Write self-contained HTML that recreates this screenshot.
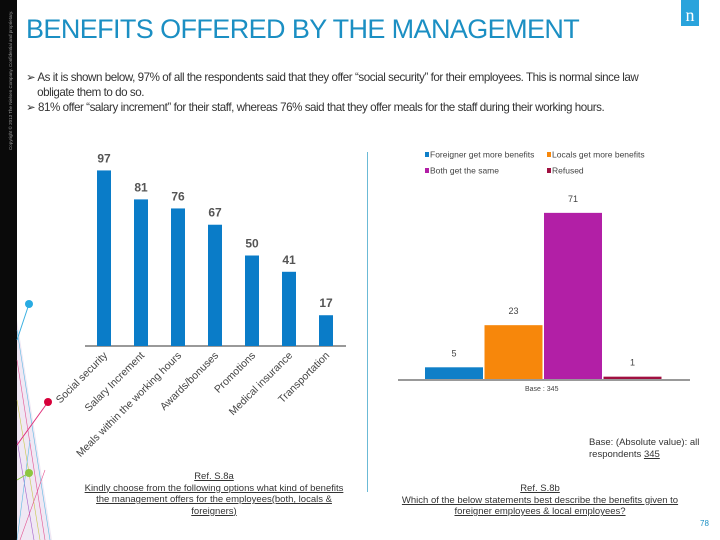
<!DOCTYPE html>
<html><head><meta charset="utf-8"><style>
html,body{margin:0;padding:0;}
body{width:720px;height:540px;position:relative;overflow:hidden;background:#fff;font-family:"Liberation Sans",sans-serif;}
.abs{position:absolute;}
.bul{position:absolute;left:26px;font-size:11.6px;color:#333;letter-spacing:-0.45px;white-space:nowrap;}
.ref{position:absolute;font-size:9.5px;color:#333;text-align:center;text-decoration:underline;line-height:11.5px;}
</style></head><body>
<div class="abs" style="left:0;top:0;width:17px;height:540px;background:#0a0a0a;"></div>
<div class="abs" style="left:8px;top:150px;width:8px;height:1px;"><div style="transform:rotate(-90deg);transform-origin:0 0;white-space:nowrap;font-size:4.5px;color:#999;">Copyright © 2013 The Nielsen Company. Confidential and proprietary.</div></div>
<svg class="abs" style="left:0;top:0" width="120" height="540">
<polygon points="17,320 17,540 52,540" fill="#f0e8f4"/>
<g stroke-width="0.6" opacity="0.8">
<line x1="17" y1="330" x2="50" y2="540" stroke="#3bb0e0"/><line x1="17" y1="360" x2="45" y2="540" stroke="#e0307a"/><line x1="17" y1="400" x2="40" y2="540" stroke="#c0c020"/><line x1="17" y1="440" x2="34" y2="540" stroke="#9040c0"/>
<line x1="17" y1="540" x2="30" y2="440" stroke="#3bb0e0"/><line x1="20" y1="540" x2="45" y2="470" stroke="#e0307a"/>
</g>
<line x1="17" y1="340" x2="29" y2="304" stroke="#3bb0e0"/><circle cx="29" cy="304" r="4" fill="#29abe2"/>
<line x1="17" y1="445" x2="48" y2="402" stroke="#e0307a"/><circle cx="48" cy="402" r="4" fill="#d7003a"/>
<line x1="17" y1="480" x2="29" y2="473" stroke="#8dc63f"/><circle cx="29" cy="473" r="4" fill="#8dc63f"/>
</svg>
<div class="abs" style="left:681px;top:0;width:18px;height:26px;background:#29a3dc;color:#fff;font-family:'Liberation Serif',serif;font-size:18px;text-align:center;line-height:30px;">n</div>
<div class="abs" style="left:26px;top:14px;font-size:27px;color:#1b8fc3;letter-spacing:-0.6px;white-space:nowrap;">BENEFITS OFFERED BY THE MANAGEMENT</div>
<div class="bul" style="top:70px;line-height:15px;">➢ As it is shown below, 97% of all the respondents said that they offer “social security” for their employees. This is normal since law<br>&nbsp;&nbsp;&nbsp;&nbsp;obligate them to do so.</div>
<div class="bul" style="top:100px;">➢ 81% offer “salary increment” for their staff, whereas 76% said that they offer meals for the staff during their working hours.</div>
<div class="abs" style="left:367px;top:152px;width:1px;height:340px;background:#6bbad6;"></div>

<svg class="abs" style="left:0;top:0" width="720" height="540" id="charts"></svg>

<div class="ref" style="left:74px;top:471px;width:280px;">Ref. S.8a<br>Kindly choose from the following options what kind of benefits<br>the management offers for the employees(both, locals &amp;<br>foreigners)</div>
<div class="ref" style="left:390px;top:483px;width:300px;">Ref. S.8b<br>Which of the below statements best describe the benefits given to<br>foreigner employees &amp; local employees?</div>
<div class="abs" style="left:589px;top:437px;font-size:9.5px;color:#333;line-height:12px;">Base: (Absolute value): all<br>respondents <u>345</u></div>
<div class="abs" style="left:525px;top:386px;font-size:7px;color:#444;">Base : 345</div>
<div class="abs" style="left:700px;top:519px;font-size:8px;color:#1b8fc3;">78</div>

<script>
const leftCats=["Social security","Salary Increment","Meals within the working hours","Awards/bonuses","Promotions","Medical insurance","Transportation"];
const leftVals=[97,81,76,67,50,41,17];
const rightCats=["Foreigner get more benefits","Locals get more benefits","Both get the same","Refused"];
const rightVals=[5,23,71,1];
const rightColors=["#0f7fc8","#f7870b","#b21fa6","#a01040"];
const NS="http://www.w3.org/2000/svg";
const svg=document.getElementById('charts');
function mk(t,a){const e=document.createElementNS(NS,t);for(const k in a)e.setAttribute(k,a[k]);svg.appendChild(e);return e;}
const lBase=346,lScale=1.81,lX0=97,lStep=37,lW=14;
const lx=i=>lX0+i*lStep, ly=v=>lBase-v*lScale;
let ax=mk('line',{x1:85,y1:lBase,x2:346,y2:lBase,stroke:'#999','stroke-width':2});


leftVals.forEach((v,i)=>{
 const r=mk('rect',{x:lx(i),y:ly(v),width:lW,height:v*lScale,fill:'#0a7cc8'});
 
 
 const t=mk('text',{x:lx(i)+lW/2,y:ly(v)-8,'text-anchor':'middle','font-size':12,'font-weight':'bold',fill:'#555','font-family':'Liberation Sans'});
 t.textContent=v;
 
 
 const c=mk('text',{x:lx(i)+lW/2+4,y:lBase+10,'text-anchor':'end','font-size':10.5,fill:'#444','font-family':'Liberation Sans',transform:`rotate(-45 ${lx(i)+lW/2+4} ${lBase+10})`});
 c.textContent=leftCats[i];
 
 
});
const rBase=379,rScale=2.34,rX0=425,rStep=59.5,rW=58;
const rx=i=>rX0+i*rStep, ry=v=>rBase-v*rScale;
let ax2=mk('line',{x1:398,y1:rBase+1,x2:690,y2:rBase+1,stroke:'#999','stroke-width':2});


rightVals.forEach((v,i)=>{
 const r=mk('rect',{x:rx(i),y:ry(v),width:rW,height:v*rScale,fill:rightColors[i]});
 
 
 const t=mk('text',{x:rx(i)+rW/2,y:ry(v)-11,'text-anchor':'middle','font-size':9,fill:'#444','font-family':'Liberation Sans'});
 t.textContent=v;
 
 
});
const lgPos=[[425,155],[547,155],[425,171],[547,171]];
rightCats.forEach((c,i)=>{
 const [x,y]=lgPos[i];
 const s=mk('rect',{x:x,y:y-3,width:4,height:5,fill:rightColors[i]});
 
 
 const t=mk('text',{x:x+5,y:y+2.5,'font-size':8.5,fill:'#444','font-family':'Liberation Sans'});
 t.textContent=c;
 
 
});
</script>
</body></html>
